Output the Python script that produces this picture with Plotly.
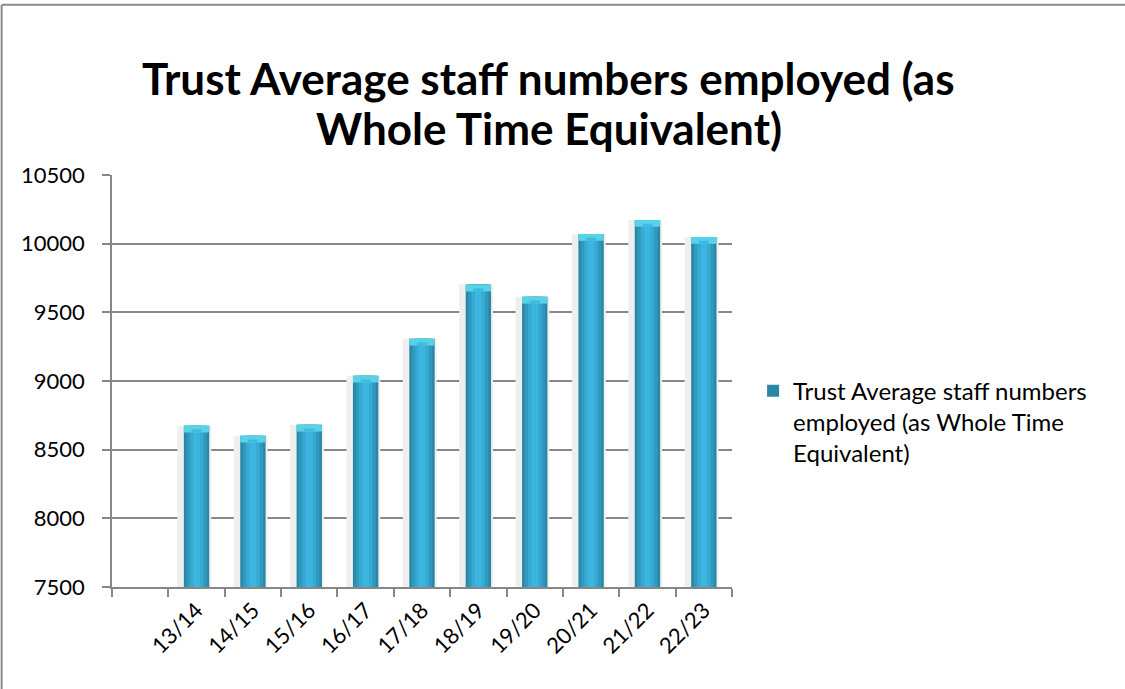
import plotly.graph_objects as go

# Financial years and average whole-time-equivalent staff
years = ["13/14", "14/15", "15/16", "16/17", "17/18", "18/19", "19/20", "20/21", "21/22", "22/23"]
staff_wte = [8675, 8602, 8682, 9039, 9308, 9702, 9614, 10071, 10173, 10049]

series_name = "Trust Average staff numbers employed (as Whole Time Equivalent)"
legend_label = "Trust Average staff numbers<br>employed (as Whole Time<br>Equivalent)"
title_lines = ["Trust Average staff numbers employed (as", "Whole Time Equivalent)"]

y_min, y_max, y_step = 7500, 10500, 500

# an empty leading slot keeps the first bar one category in from the axis
categories = [" "] + years

FONT = "Lato, 'Open Sans', sans-serif"
AXIS_GREY = "#878787"

heights = [v - y_min for v in staff_wte]

fig = go.Figure()

# soft shadow behind each column
fig.add_trace(go.Bar(
    x=years, y=heights, base=y_min, width=0.6, offset=-0.34,
    marker=dict(color="#efefef", line=dict(width=0)),
    showlegend=False, hoverinfo="skip",
))

# cylinder body: dark outer rim, then progressively lighter inner bands
for w, col, show in [(0.45, "#2a88a6", True), (0.36, "#3099bd", False),
                     (0.24, "#36aad3", False), (0.12, "#3cb6de", False)]:
    fig.add_trace(go.Bar(
        x=years, y=heights, base=y_min, width=w,
        marker=dict(color=col, line=dict(width=0)),
        name=legend_label if show else series_name,
        showlegend=show, hoverinfo="skip" if not show else None,
    ))

# lighter cap on top of each column
cap = 50
fig.add_trace(go.Bar(
    x=years, y=[cap] * len(years), base=[v - cap for v in staff_wte], width=0.45,
    marker=dict(color="#58d2e5", line=dict(width=0)),
    showlegend=False, hoverinfo="skip",
))
fig.add_trace(go.Bar(
    x=years, y=[cap * 0.45] * len(years), base=[v - cap for v in staff_wte], width=0.18,
    marker=dict(color="#40bade", line=dict(width=0)),
    showlegend=False, hoverinfo="skip",
))

# two-line bold heading, set line by line for tighter leading
title_annotations = [
    dict(text="<b>" + line + "</b>", xref="paper", yref="paper", x=0.7048, y=yy,
         xanchor="center", yanchor="middle", showarrow=False,
         font=dict(family=FONT, size=44, color="black"))
    for line, yy in zip(title_lines, [1.2357, 1.1144])
]

fig.update_layout(
    width=1125, height=689,
    margin=dict(l=112, r=393, t=175, b=102),
    paper_bgcolor="white", plot_bgcolor="white",
    barmode="overlay",
    font=dict(family=FONT, color="black", size=22),
    annotations=title_annotations,
    xaxis=dict(
        type="category", categoryorder="array", categoryarray=categories,
        range=[-0.5, len(categories) - 0.5],
        tickson="boundaries", ticks="outside", ticklen=8, tickcolor=AXIS_GREY, tickwidth=1.5,
        showline=True, linecolor=AXIS_GREY, linewidth=1.5,
        showgrid=False, tickangle=-45,
        tickfont=dict(family=FONT, size=22, color="black"),
    ),
    yaxis=dict(
        range=[y_min, y_max], tickmode="linear", tick0=y_min, dtick=y_step,
        tickformat="d",
        ticks="outside", ticklen=8, tickcolor=AXIS_GREY, tickwidth=1.5,
        showline=True, linecolor=AXIS_GREY, linewidth=1.5,
        showgrid=True, gridcolor=AXIS_GREY, gridwidth=1.5,
        zeroline=False, ticklabelstandoff=13,
        tickfont=dict(family=FONT, size=22, color="black"),
    ),
    legend=dict(
        x=1.034, xanchor="left", y=0.53, yanchor="top", valign="top",
        font=dict(family=FONT, size=24, color="black"),
        bgcolor="rgba(0,0,0,0)", itemwidth=30, tracegroupgap=0,
    ),
    shapes=[
        # chart frame: top and left edges
        dict(type="line", xref="paper", yref="paper", x0=-0.178, x1=1.7, y0=1.4135, y1=1.4135,
             line=dict(color="#8a8a8a", width=2)),
        dict(type="line", xref="paper", yref="paper", x0=-0.178, x1=-0.178, y0=1.4135, y1=-0.3,
             line=dict(color="#8a8a8a", width=2)),
    ],
)

fig.write_html("out.html")
